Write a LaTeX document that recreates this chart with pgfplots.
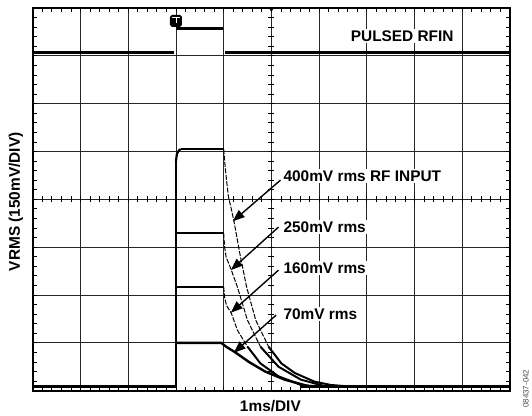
\documentclass[border=0pt]{standalone}
\usepackage{fontspec}
\setmainfont{Liberation Sans}
\usepackage{pgfplots}
\pgfplotsset{compat=1.18}
\usetikzlibrary{arrows.meta}
\newcommand\lbl{\fontsize{15.5}{18}\selectfont\bfseries}
\begin{document}
\begin{tikzpicture}
\begin{axis}[
  scale only axis, width=480pt, height=385pt,
  xmin=0, xmax=10, ymin=0, ymax=8,
  xtick={0,...,10}, ytick={0,...,8},
  xticklabels={}, yticklabels={},
  major tick length=0pt,
  grid=major, grid style={black!85, line width=0.8pt},
  axis line style={line width=2pt},
  clip=false,
]
\coordinate (SW) at (rel axis cs:0,0);
\coordinate (NE) at (rel axis cs:1,1);
% PULSED RFIN trace
\addplot[black, line width=2.4pt] coordinates {(0,7.07) (2.96,7.07)};
\addplot[black, line width=2.4pt] coordinates {(3.0,7.57) (3.98,7.57)};
\addplot[black, line width=2.4pt] coordinates {(4.03,7.07) (10,7.07)};
% baseline
\addplot[black, line width=2.8pt] coordinates {(0,0.08) (3.0,0.08)};
\addplot[black, line width=2.8pt] coordinates {(5.6,0.08) (10,0.08)};
% 400 mV rms
\addplot[black, line width=2.2pt] coordinates {(3.0,0.08) (3.0,4.8)};
\addplot[black, line width=2.2pt] coordinates {(3.0,4.8) (3.02,4.95) (3.06,5.02) (3.1,5.05)};
\addplot[black, line width=2.4pt] coordinates {(3.1,5.05) (4.0,5.05)};
\addplot[black, line width=1pt, dash pattern=on 5pt off 1.5pt] coordinates {(4.0,5.05) (4.02,4.8) (4.06,4.4) (4.1,4.05) (4.16,3.8) (4.22,3.52) (4.34,2.86) (4.48,2.17) (4.67,1.48) (4.94,0.92)};
\addplot[black, line width=2pt] coordinates {(4.94,0.92) (5.21,0.57) (5.49,0.37) (5.9,0.19) (6.24,0.12) (6.6,0.09) (7,0.08)};
% 250 mV rms
\addplot[black, line width=2.2pt] coordinates {(3.0,3.29) (4.0,3.29)};
\addplot[black, line width=1pt, dash pattern=on 5pt off 1.5pt] coordinates {(4.0,3.29) (4.02,3.0) (4.05,2.8) (4.15,2.55) (4.29,2.16) (4.5,1.47) (4.77,0.92)};
\addplot[black, line width=2pt] coordinates {(4.77,0.92) (5.15,0.5) (5.62,0.23) (6.1,0.1) (6.5,0.08)};
% 160 mV rms
\addplot[black, line width=2.2pt] coordinates {(3.0,2.17) (4.0,2.17)};
\addplot[black, line width=1pt, dash pattern=on 5pt off 1.5pt] coordinates {(4.0,2.17) (4.02,1.95) (4.06,1.78) (4.16,1.62) (4.29,1.26) (4.5,0.92)};
\addplot[black, line width=2pt] coordinates {(4.5,0.92) (4.77,0.57) (5.15,0.3) (5.62,0.12) (6.0,0.08)};
% 70 mV rms
\addplot[black, line width=2.4pt] coordinates {(3.0,1.0) (3.95,1.0) (4.05,0.92) (4.23,0.81) (4.53,0.6) (4.87,0.4) (5.28,0.23) (5.76,0.1) (6.2,0.08)};
% labels
\node[anchor=west, fill=white, inner sep=1.5pt, font=\lbl] at (axis cs:6.63,7.41) {PULSED RFIN};
\node[anchor=west, fill=white, inner sep=1.5pt, font=\lbl] at (axis cs:5.22,4.49) {400mV rms RF INPUT};
\node[anchor=west, fill=white, inner sep=1.5pt, font=\lbl] at (axis cs:5.22,3.42) {250mV rms};
\node[anchor=west, fill=white, inner sep=1.5pt, font=\lbl] at (axis cs:5.22,2.56) {160mV rms};
\node[anchor=west, fill=white, inner sep=1.5pt, font=\lbl] at (axis cs:5.22,1.60) {70mV rms};
% arrows
\draw[line width=1.4pt, -{Triangle[length=12pt,width=9pt]}] (axis cs:5.19,4.40) -- (axis cs:4.19,3.54);
\draw[line width=1.4pt, -{Triangle[length=12pt,width=9pt]}] (axis cs:5.15,3.42) -- (axis cs:4.15,2.52);
\draw[line width=1.4pt, -{Triangle[length=12pt,width=9pt]}] (axis cs:5.15,2.52) -- (axis cs:4.15,1.63);
\draw[line width=1.4pt, -{Triangle[length=12pt,width=9pt]}] (axis cs:5.10,1.58) -- (axis cs:4.21,0.79);
% trigger marker
\fill[black, rounded corners=2pt] ([shift={(-6pt,-6pt)}]axis cs:3.0,7.73) rectangle ([shift={(6pt,6pt)}]axis cs:3.0,7.73);
\draw[white, line width=0.6pt] ([shift={(-4pt,4pt)}]axis cs:3.0,7.73) -- ([shift={(4pt,4pt)}]axis cs:3.0,7.73);
\draw[white, line width=0.6pt] ([shift={(0pt,4pt)}]axis cs:3.0,7.73) -- ([shift={(0pt,-2pt)}]axis cs:3.0,7.73);
\fill[black] ([shift={(-2.5pt,0pt)}]axis cs:5,8) -- ([shift={(2.5pt,0pt)}]axis cs:5,8) -- ([shift={(0pt,-4pt)}]axis cs:5,8) -- cycle;
\end{axis}
% minor ticks on frame and centre lines
\begin{scope}[shift={(SW)}, x=48pt, y=48.125pt, line width=0.8pt]
\foreach \i in {1,...,49} {
  \draw (\i*0.2,0) -- ++(0,4pt);
  \draw (\i*0.2,8) -- ++(0,-4pt);
  \draw ([yshift=-3pt]\i*0.2,4) -- ++(0,6pt);
}
\foreach \j in {1,...,39} {
  \draw (0,\j*0.2) -- ++(4pt,0);
  \draw (10,\j*0.2) -- ++(-4pt,0);
  \draw ([xshift=-3pt]5,\j*0.2) -- ++(6pt,0);
}
\end{scope}
\node[rotate=90, font=\lbl] at ([shift={(-17pt,190pt)}]SW) {VRMS (150mV/DIV)};
\node[font=\lbl] at ([shift={(239pt,-15pt)}]SW) {1ms/DIV};
\node[rotate=90, font=\fontsize{8}{9}\selectfont, text=black!70] at ([shift={(496pt,2pt)}]SW) {08437-042};
\path[use as bounding box] ([shift={(-33pt,-25pt)}]SW) rectangle ([shift={(19pt,8pt)}]NE);
\end{tikzpicture}
\end{document}
